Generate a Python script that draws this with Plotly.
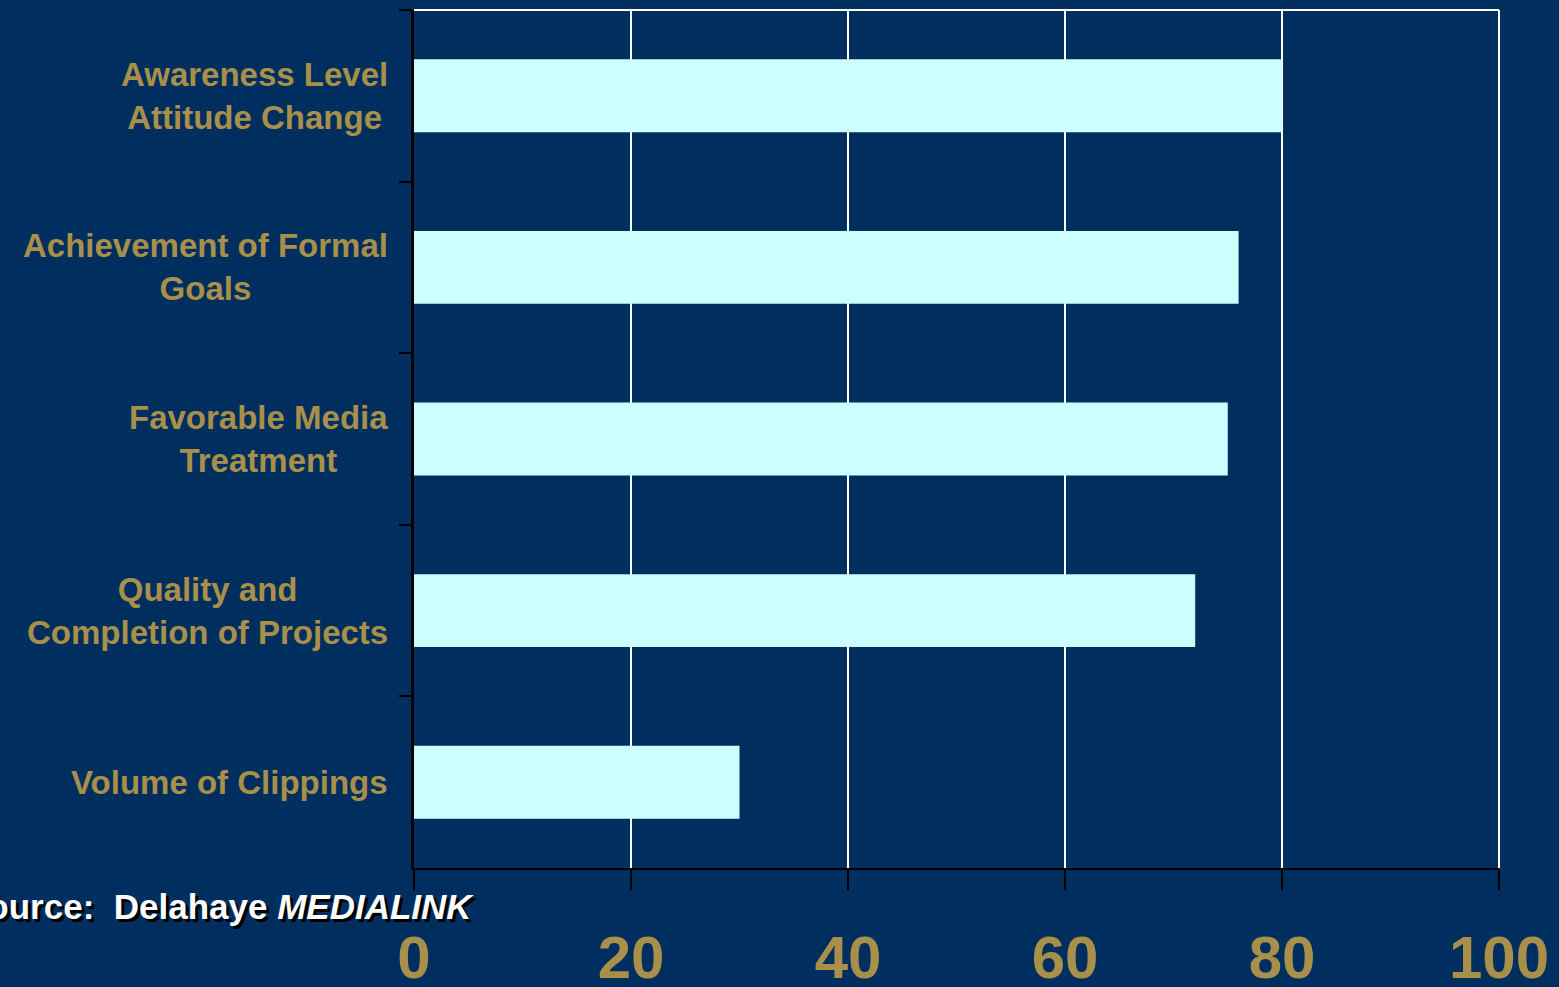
import plotly.graph_objects as go

categories = [
    "Awareness Level<br>Attitude Change",
    "Achievement of Formal<br>Goals",
    "Favorable Media<br>Treatment",
    "Quality and<br>Completion of Projects",
    "Volume of Clippings",
]
values = [80, 76, 75, 72, 30]
x_ticks = [0, 20, 40, 60, 80, 100]
x_tick_labels = ["0", "20", "40", "60", "80", "100"]
source_text = "Source:  Delahaye <i>MEDIALINK</i>"

BG = "#002f5f"
GOLD = "#a8904a"
BAR = "#ccffff"
FONT = "Liberation Sans, Arial, sans-serif"

fig = go.Figure()
fig.add_trace(go.Bar(
    x=values, y=categories, orientation="h",
    marker=dict(color=BAR, line=dict(width=0)),
    hoverinfo="x+y",
))

for cat in categories:
    fig.add_annotation(
        x=0, xref="paper", xshift=-24, xanchor="right",
        y=cat, yref="y", yanchor="middle",
        text=cat, showarrow=False, align="center",
        font=dict(family=FONT, size=33, color=GOLD, weight="bold"),
    )

fig.add_annotation(
    x=(476 - 414) / 1085, xref="paper", xanchor="right",
    y=-0.045, yref="paper", yanchor="middle",
    text="<b>" + source_text + "</b>", showarrow=False,
    font=dict(family=FONT, size=35, color="white", shadow="3px 3px 0px black"),
)

fig.add_shape(type="line", xref="paper", yref="paper", x0=0, x1=1, y0=1, y1=1,
              line=dict(color="white", width=2), layer="above")
fig.add_shape(type="line", xref="paper", yref="paper", x0=1, x1=1, y0=0, y1=1,
              line=dict(color="white", width=2), layer="above")

fig.update_layout(
    width=1559, height=987,
    margin=dict(l=414, r=60, t=10, b=119, autoexpand=False),
    paper_bgcolor=BG, plot_bgcolor=BG,
    bargap=0.575,
    showlegend=False,
    xaxis=dict(
        range=[0, 100], tickvals=x_ticks, ticktext=x_tick_labels,
        showgrid=True, gridcolor="white", gridwidth=2,
        showline=True, linecolor="black", linewidth=2,
        ticks="outside", ticklen=20, tickwidth=2, tickcolor="black",
        ticklabelstandoff=16, automargin=False,
        tickfont=dict(family=FONT, size=60, color=GOLD, weight="bold"),
        zeroline=False, fixedrange=True,
    ),
    yaxis=dict(
        autorange="reversed", type="category",
        showticklabels=False, automargin=False,
        showline=True, linecolor="black", linewidth=3,
        ticks="outside", ticklen=12, tickwidth=2, tickcolor="black",
        tickson="boundaries", showgrid=False, fixedrange=True,
    ),
)

fig.write_html("out.html")
